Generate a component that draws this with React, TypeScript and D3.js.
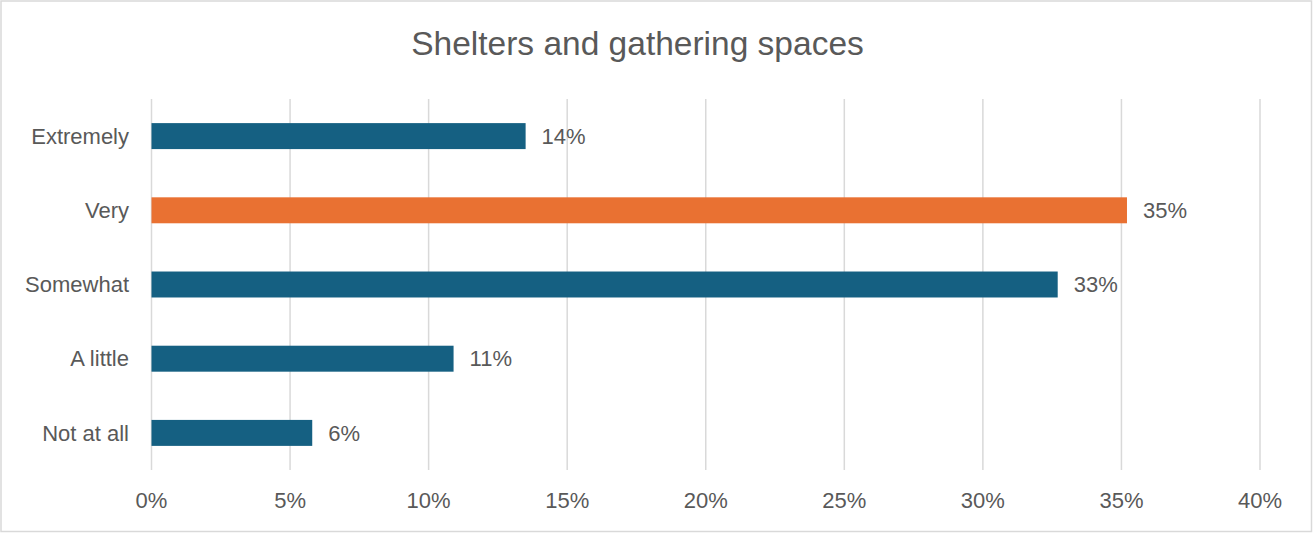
import React from "react";
import * as d3 from "d3";

const categories = ["Extremely", "Very", "Somewhat", "A little", "Not at all"];
const values = [13.5, 35.2, 32.7, 10.9, 5.8];
const highlight = ["Very"];
const xTicks = [0, 5, 10, 15, 20, 25, 30, 35, 40];
const title = "Shelters and gathering spaces";

const W = 1314;
const H = 533;
const FONT = "'Liberation Sans', Arial, sans-serif";
const TEXT = "#595959";

export default function App() {
  const x = d3.scaleLinear().domain([0, 40]).range([151.5, 1260]);
  const y = d3.scaleBand<string>().domain(categories).range([99, 470]).paddingInner(0.65).paddingOuter(0.325);

  return (
    <div style={{ position: "fixed", left: 0, top: 0 }}>
      <svg width={W} height={H} style={{ display: "block", background: "#fff" }}>
        <rect x={1} y={1} width={1310.5} height={530.5} fill="#fff" stroke="#d9d9d9" strokeWidth={1.5} />
        <text x={637.5} y={55} textAnchor="middle" fontFamily={FONT} fontSize={33.5} fill={TEXT}>
          {title}
        </text>
        {xTicks.map((t) => (
          <g key={t}>
            <line x1={x(t)} x2={x(t)} y1={99} y2={470} stroke="#d9d9d9" strokeWidth={1.5} />
            <text x={x(t)} y={508} textAnchor="middle" fontFamily={FONT} fontSize={22} fill={TEXT}>
              {`${t}%`}
            </text>
          </g>
        ))}
        {categories.map((c, i) => {
          const yc = (y(c) as number) + y.bandwidth() / 2;
          return (
            <g key={c}>
              <rect
                x={x(0)}
                y={y(c)}
                width={x(values[i]) - x(0)}
                height={y.bandwidth()}
                fill={highlight.includes(c) ? "#E97132" : "#156082"}
              />
              <text x={129} y={yc} dy="0.35em" textAnchor="end" fontFamily={FONT} fontSize={22} fill={TEXT}>
                {c}
              </text>
              <text x={x(values[i]) + 16} y={yc} dy="0.35em" textAnchor="start" fontFamily={FONT} fontSize={22} fill={TEXT}>
                {`${Math.round(values[i])}%`}
              </text>
            </g>
          );
        })}
      </svg>
    </div>
  );
}
